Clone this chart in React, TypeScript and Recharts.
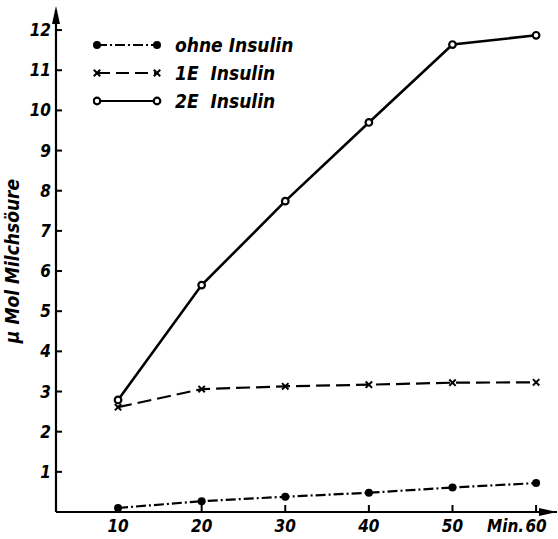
import React from "react";
import { LineChart, Line, XAxis, YAxis } from "recharts";

const minutes = [10, 20, 30, 40, 50, 60];
const ohneInsulin = [0.1, 0.27, 0.38, 0.48, 0.61, 0.72];
const einE = [2.61, 3.06, 3.13, 3.17, 3.22, 3.23];
const zweiE = [2.79, 5.65, 7.74, 9.7, 11.64, 11.87];

const xTicks = [10, 20, 30, 40, 50, 60];
const yTicks = [1, 2, 3, 4, 5, 6, 7, 8, 9, 10, 11, 12];

const seriesNames = ["ohne Insulin", "1E  Insulin", "2E  Insulin"];

const FONT = "'DejaVu Sans Condensed', 'DejaVu Sans', sans-serif";

const W = 558;
const H = 539;
const LEFT = 56;
const TOP = 10;
const BOTTOM_AXIS_Y = 512;

const data = minutes.map((m, i) => ({
  min: m,
  ohne: ohneInsulin[i],
  e1: einE[i],
  e2: zweiE[i],
}));

const textStyle: any = {
  fontSize: 17,
  fontStyle: "italic",
  fontWeight: 600,
  fontFamily: FONT,
  fontStretch: "condensed",
  fill: "#000",
};

// marker shapes
function FilledDot({ cx, cy }: any) {
  if (cx == null || cy == null) return null;
  return <circle cx={cx} cy={cy} r={4} fill="#000" stroke="none" />;
}
function CrossDot({ cx, cy }: any) {
  if (cx == null || cy == null) return null;
  const s = 3.2;
  return (
    <g stroke="#000" strokeWidth={2}>
      <line x1={cx - s} y1={cy - s} x2={cx + s} y2={cy + s} />
      <line x1={cx - s} y1={cy + s} x2={cx + s} y2={cy - s} />
    </g>
  );
}
function OpenDot({ cx, cy }: any) {
  if (cx == null || cy == null) return null;
  return <circle cx={cx} cy={cy} r={3.3} fill="#fff" stroke="#000" strokeWidth={2.2} />;
}

function YTick({ x, y, payload }: any) {
  return (
    <g>
      <line x1={LEFT} y1={y} x2={LEFT + 6} y2={y} stroke="#000" strokeWidth={2} />
      <text x={x} y={y} dy={6} textAnchor="end" style={textStyle}>
        {payload.value}
      </text>
    </g>
  );
}

function XTick({ x, payload }: any) {
  return (
    <g>
      <line x1={x} y1={BOTTOM_AXIS_Y} x2={x} y2={BOTTOM_AXIS_Y - 7} stroke="#000" strokeWidth={2} />
      <text x={x} y={532} textAnchor="middle" style={textStyle}>
        {payload.value}
      </text>
      {payload.value === 60 && (
        <text x={x - 12} y={532} textAnchor="end" style={textStyle}>
          Min.
        </text>
      )}
    </g>
  );
}

const legendStyles = [
  { dash: "10 3 2 3", marker: "filled" },
  { dash: "13 6", marker: "cross" },
  { dash: undefined, marker: "open" },
];

function LegendMarker({ kind, cx, cy }: { kind: string; cx: number; cy: number }) {
  if (kind === "filled") return <FilledDot cx={cx} cy={cy} />;
  if (kind === "cross") return <CrossDot cx={cx} cy={cy} />;
  return <OpenDot cx={cx} cy={cy} />;
}

function ChartLegend() {
  return (
    <div style={{ position: "absolute", left: 93, top: 31, fontFamily: FONT }}>
      {seriesNames.map((name, i) => (
        <div key={name} style={{ display: "flex", alignItems: "center", height: 28 }}>
          <svg width={70} height={14}>
            <line
              x1={4}
              y1={7}
              x2={64}
              y2={7}
              stroke="#000"
              strokeWidth={2.2}
              strokeDasharray={legendStyles[i].dash}
            />
            <LegendMarker kind={legendStyles[i].marker} cx={4} cy={7} />
            <LegendMarker kind={legendStyles[i].marker} cx={64} cy={7} />
          </svg>
          <span
            style={{
              marginLeft: 12,
              fontSize: 19,
              fontStyle: "italic",
              fontWeight: 600,
              fontStretch: "condensed",
              whiteSpace: "pre",
              color: "#000",
            }}
          >
            {name}
          </span>
        </div>
      ))}
    </div>
  );
}

export default function App() {
  return (
    <div style={{ position: "absolute", left: 0, top: 0, width: W, height: H, background: "#fff" }}>
      <LineChart
        width={W}
        height={H}
        data={data}
        margin={{ top: TOP, right: 1, left: 0, bottom: 0 }}
      >
        <XAxis
          dataKey="min"
          type="number"
          domain={[2.58, 62.5]}
          ticks={xTicks}
          allowDataOverflow
          height={27}
          axisLine={{ stroke: "#000", strokeWidth: 2.2 }}
          tickLine={false}
          tickSize={0}
          tick={<XTick />}
        />
        <YAxis
          type="number"
          domain={[0, 12.5]}
          ticks={yTicks}
          allowDataOverflow
          width={LEFT}
          axisLine={{ stroke: "#000", strokeWidth: 2.2 }}
          tickLine={false}
          tickSize={0}
          tickMargin={5}
          tick={<YTick />}
          label={{
            value: "µ Mol  Milchsöure",
            angle: -90,
            position: "insideLeft",
            offset: 12,
            style: { ...textStyle, fontSize: 19, textAnchor: "middle" },
          }}
        />
        <Line
          dataKey="ohne"
          name={seriesNames[0]}
          stroke="#000"
          strokeWidth={2.2}
          strokeDasharray="10 3 2 3"
          dot={<FilledDot />}
          activeDot={false}
          isAnimationActive={false}
        />
        <Line
          dataKey="e1"
          name={seriesNames[1]}
          stroke="#000"
          strokeWidth={2.2}
          strokeDasharray="14 6"
          dot={<CrossDot />}
          activeDot={false}
          isAnimationActive={false}
        />
        <Line
          dataKey="e2"
          name={seriesNames[2]}
          stroke="#000"
          strokeWidth={2.6}
          dot={<OpenDot />}
          activeDot={false}
          isAnimationActive={false}
        />
      </LineChart>
      <ChartLegend />
      {/* axis arrow heads */}
      <svg
        width={W}
        height={H}
        style={{ position: "absolute", left: 0, top: 0, pointerEvents: "none" }}
      >
        <polygon points={`${LEFT},6 ${LEFT - 4},24 ${LEFT + 4},24`} fill="#000" />
        <polygon points={`557,${BOTTOM_AXIS_Y} 539,${BOTTOM_AXIS_Y - 4} 539,${BOTTOM_AXIS_Y + 4}`} fill="#000" />
      </svg>
    </div>
  );
}
